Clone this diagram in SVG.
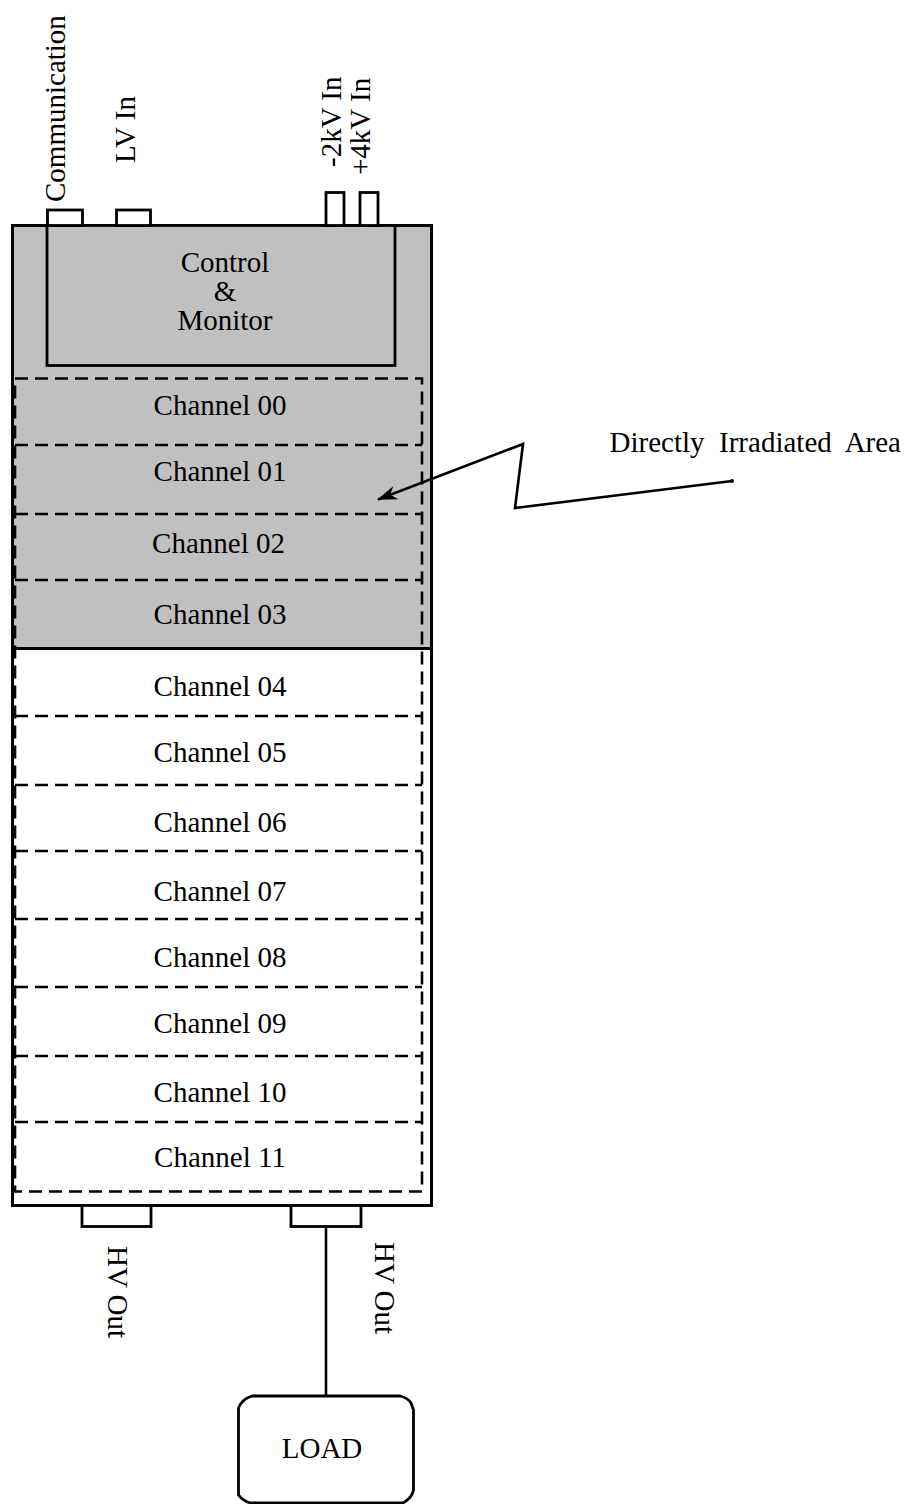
<svg xmlns="http://www.w3.org/2000/svg" width="911" height="1504" viewBox="0 0 911 1504">
<style>
  text { font-family: "Liberation Serif", "Times New Roman", serif; font-size: 29px; fill: #000; }
  .mid { text-anchor: middle; }
  .solid { fill: none; stroke: #000; stroke-width: 3; }
  .port { fill: #fff; stroke: #000; stroke-width: 2.8; }
  .dash { fill: none; stroke: #000; stroke-width: 2.6; stroke-dasharray: 13 7; }
  .wire { fill: none; stroke: #000; stroke-width: 2.6; }
</style>
<defs>
  <marker id="arr" viewBox="0 0 20 14" refX="19" refY="7" markerWidth="20" markerHeight="14" markerUnits="userSpaceOnUse" orient="auto">
    <path d="M0,0 L20,7 L0,14 L6,7 Z" fill="#000"/>
  </marker>
</defs>
<rect x="0" y="0" width="911" height="1504" fill="#fff"/>

<g id="module">
  <rect x="12.5" y="225.5" width="419" height="423" fill="#c0c0c0"/>
  <rect x="12.5" y="648.5" width="419" height="557" fill="#fff"/>
  <rect x="12.5" y="225.5" width="419" height="980" class="solid"/>
</g>

<g id="control">
  <rect x="47" y="225.5" width="348" height="140" fill="#c0c0c0" stroke="#000" stroke-width="2.8"/>
  <text class="mid" x="225" y="272">Control</text>
  <text class="mid" x="225" y="301">&amp;</text>
  <text class="mid" x="225" y="330">Monitor</text>
</g>

<g id="channels">
  <rect x="15" y="378.5" width="407" height="813" class="dash"/>
  <line x1="15" y1="445" x2="422" y2="445" class="dash"/>
  <line x1="15" y1="514" x2="422" y2="514" class="dash"/>
  <line x1="15" y1="580" x2="422" y2="580" class="dash"/>
  <line x1="15" y1="716" x2="422" y2="716" class="dash"/>
  <line x1="15" y1="785" x2="422" y2="785" class="dash"/>
  <line x1="15" y1="851" x2="422" y2="851" class="dash"/>
  <line x1="15" y1="919" x2="422" y2="919" class="dash"/>
  <line x1="15" y1="987" x2="422" y2="987" class="dash"/>
  <line x1="15" y1="1056" x2="422" y2="1056" class="dash"/>
  <line x1="15" y1="1122" x2="422" y2="1122" class="dash"/>
  <line x1="12.5" y1="648.5" x2="431.5" y2="648.5" stroke="#000" stroke-width="3"/>
  <g id="ch00"><text class="mid" x="220" y="415">Channel 00</text></g>
  <g id="ch01"><text class="mid" x="220" y="481">Channel 01</text></g>
  <g id="ch02"><text class="mid" x="218.5" y="553">Channel 02</text></g>
  <g id="ch03"><text class="mid" x="220" y="624">Channel 03</text></g>
  <g id="ch04"><text class="mid" x="220" y="696">Channel 04</text></g>
  <g id="ch05"><text class="mid" x="220" y="762">Channel 05</text></g>
  <g id="ch06"><text class="mid" x="220" y="832">Channel 06</text></g>
  <g id="ch07"><text class="mid" x="220" y="901">Channel 07</text></g>
  <g id="ch08"><text class="mid" x="220" y="967">Channel 08</text></g>
  <g id="ch09"><text class="mid" x="220" y="1033">Channel 09</text></g>
  <g id="ch10"><text class="mid" x="220" y="1102">Channel 10</text></g>
  <g id="ch11"><text class="mid" x="220" y="1167">Channel 11</text></g>
</g>

<g id="port-comm">
  <rect x="47.5" y="210" width="35" height="15.5" class="port"/>
  <text transform="translate(65,202) rotate(-90)">Communication</text>
</g>
<g id="port-lv">
  <rect x="116.5" y="210" width="34" height="15.5" class="port"/>
  <text transform="translate(135,163) rotate(-90)">LV In</text>
</g>
<g id="port-2kv">
  <rect x="326" y="192.5" width="18" height="33" class="port"/>
  <text transform="translate(341,167) rotate(-90)">-2kV In</text>
</g>
<g id="port-4kv">
  <rect x="360" y="192.5" width="18" height="33" class="port"/>
  <text transform="translate(370,175) rotate(-90)">+4kV In</text>
</g>

<g id="port-hv1">
  <rect x="82" y="1205.5" width="69" height="21" class="port"/>
  <text transform="translate(108,1246) rotate(90)">HV Out</text>
</g>
<g id="port-hv2">
  <rect x="291" y="1205.5" width="70" height="21" class="port"/>
  <text transform="translate(375,1242) rotate(90)">HV Out</text>
</g>

<g id="load">
  <path d="M252,1396 L400,1396 Q408,1398 411,1403 L413.5,1410 L413.5,1490 Q412,1498 403,1503 L250,1503 Q242,1500 238.5,1495 L238.5,1408 Q242,1399 252,1396 Z" fill="#fff" stroke="#000" stroke-width="2.8"/>
  <text class="mid" x="322" y="1458">LOAD</text>
</g>

<g id="irradiated-label">
  <text x="901" y="452" text-anchor="end" xml:space="preserve">Directly  Irradiated  Area</text>
</g>

<g id="connectors">
  <line x1="326" y1="1226.5" x2="326" y2="1396" class="wire" stroke-width="2.2"/>
  <polyline points="732,481 515,508 523,444 378,499.5" class="wire" marker-end="url(#arr)"/>
  <circle cx="732" cy="481" r="2" fill="#000"/>
</g>
</svg>
